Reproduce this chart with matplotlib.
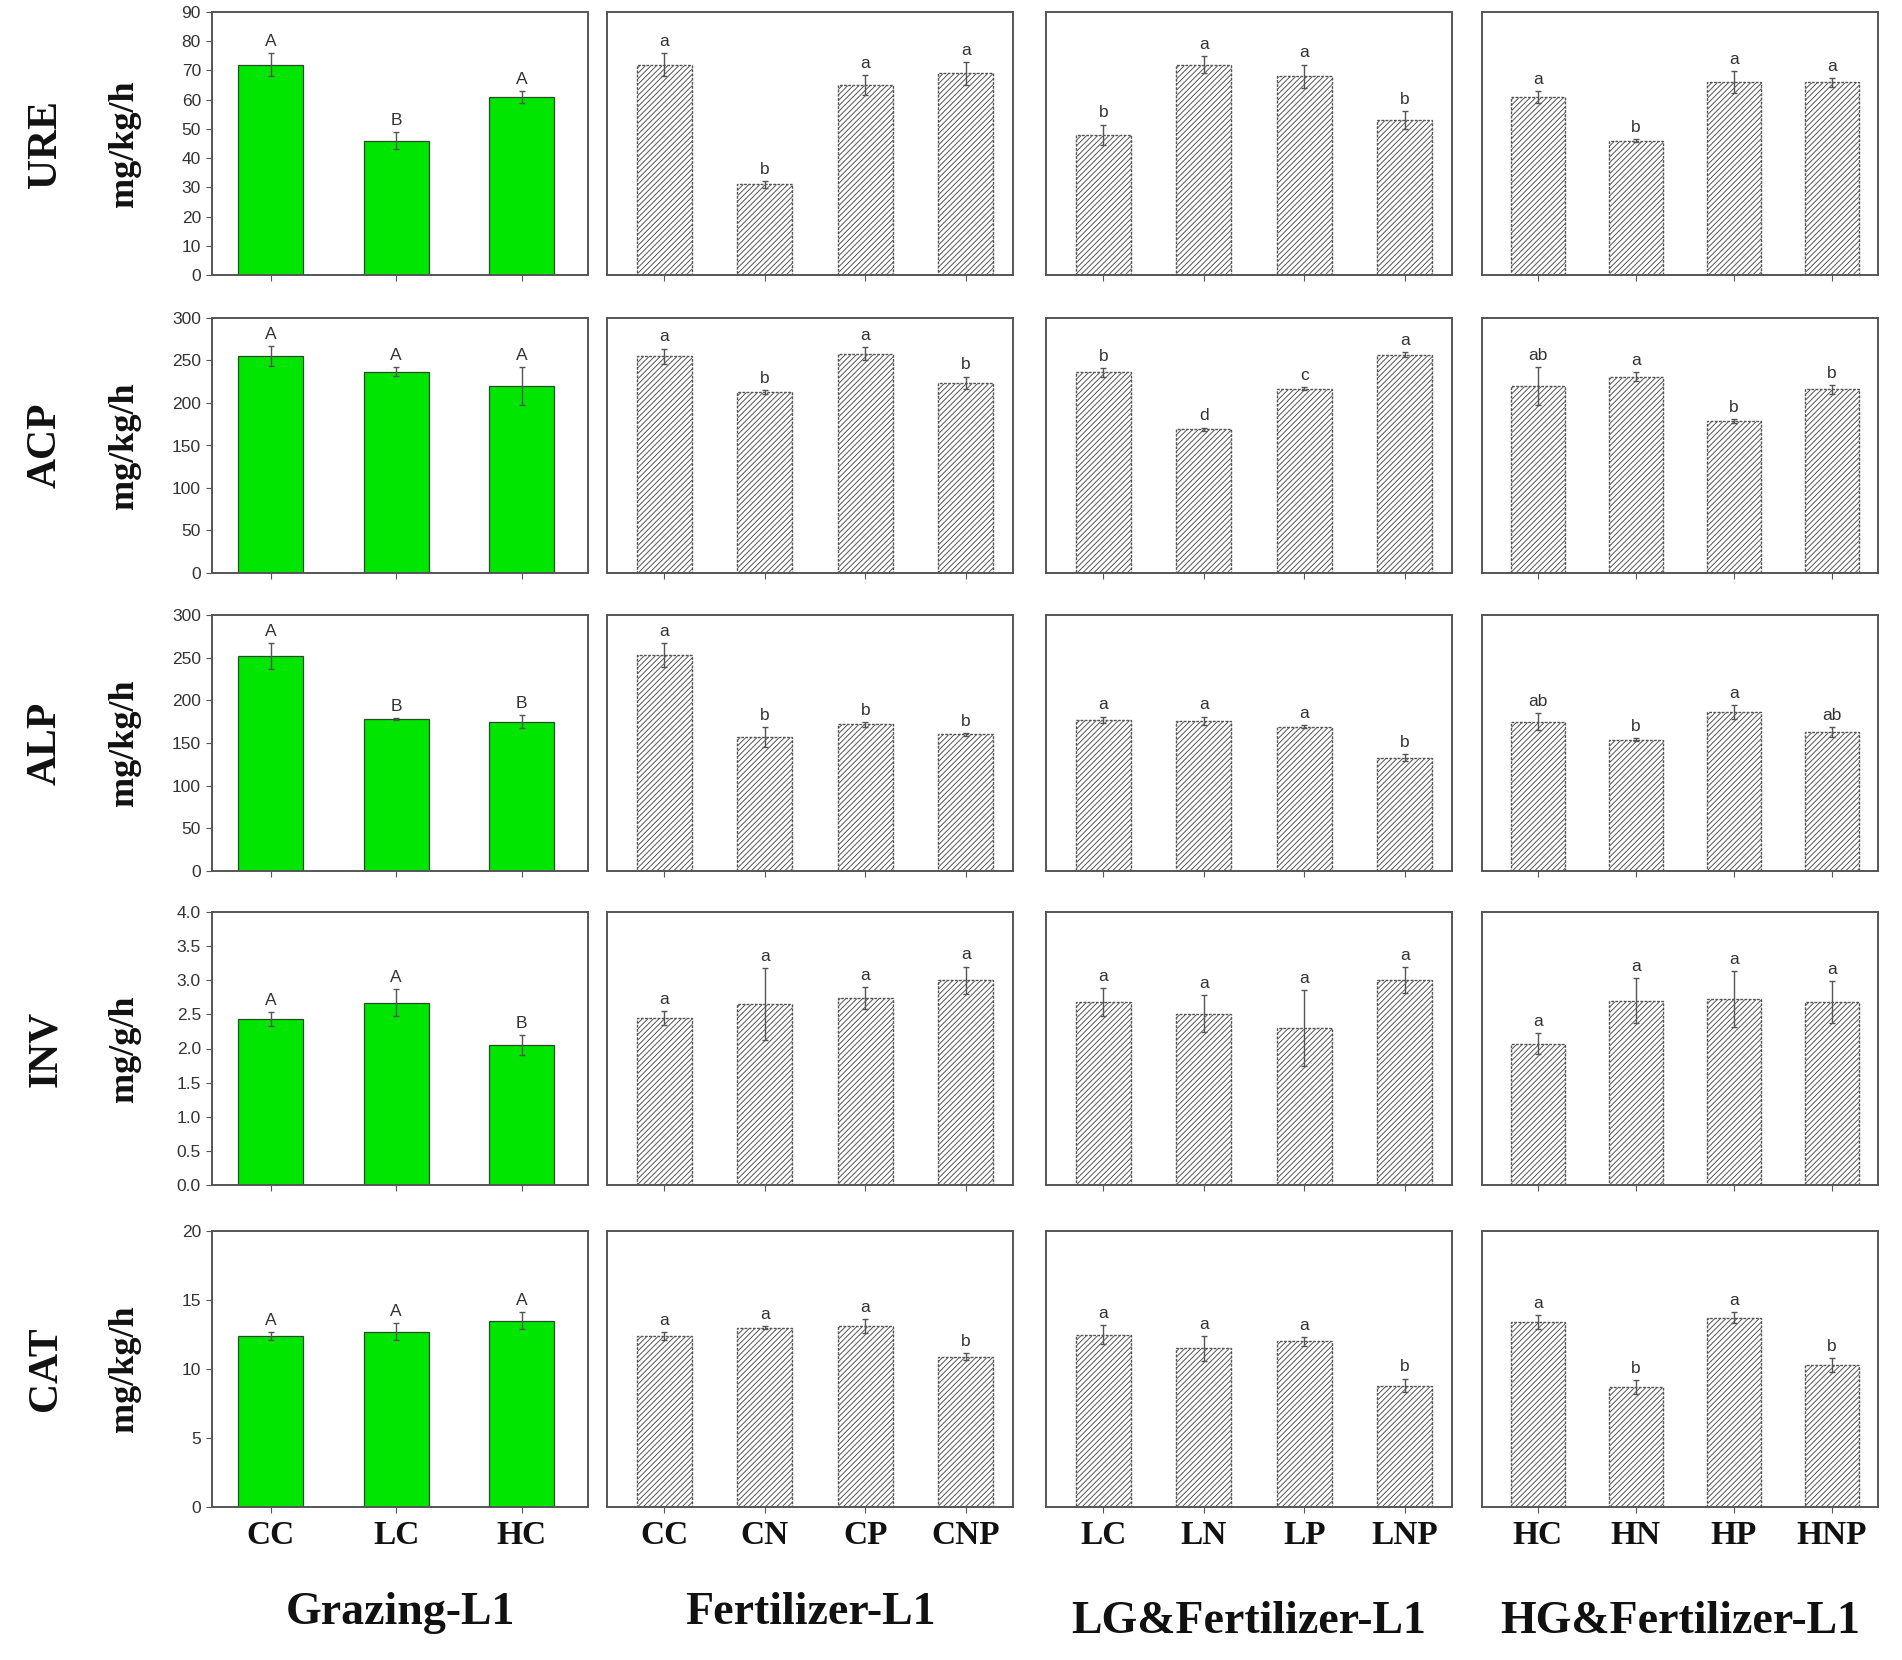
import matplotlib
matplotlib.use("Agg")
import matplotlib.pyplot as plt
import numpy as np

# ---------------- data ----------------
groups = ["Grazing-L1", "Fertilizer-L1", "LG&Fertilizer-L1", "HG&Fertilizer-L1"]
cats_grazing = ["CC", "LC", "HC"]
cats_fert = ["CC", "CN", "CP", "CNP"]
cats_lg = ["LC", "LN", "LP", "LNP"]
cats_hg = ["HC", "HN", "HP", "HNP"]

enzymes = ["URE", "ACP", "ALP", "INV", "CAT"]
units = ["mg/kg/h", "mg/kg/h", "mg/kg/h", "mg/g/h", "mg/kg/h"]
y_max = [90, 300, 300, 4.0, 20]
y_step = [10, 50, 50, 0.5, 5]

ure_vals = [[72, 46, 61], [72, 31, 65, 69], [48, 72, 68, 53], [61, 46, 66, 66]]
ure_errs = [[4, 3, 2], [4, 1.2, 3.4, 4], [3.5, 3, 4, 3], [2, 0.5, 3.8, 1.5]]
ure_sig = [["A", "B", "A"], ["a", "b", "a", "a"], ["b", "a", "a", "b"], ["a", "b", "a", "a"]]

acp_vals = [[255, 237, 220], [255, 213, 258, 224], [236, 169, 217, 257], [220, 231, 179, 216]]
acp_errs = [[12, 5, 22], [9, 2, 8, 7], [5, 2, 2, 3], [22, 5, 2, 5]]
acp_sig = [["A", "A", "A"], ["a", "b", "a", "b"], ["b", "d", "c", "a"], ["ab", "a", "b", "b"]]

alp_vals = [[252, 178, 175], [253, 157, 172, 160], [177, 176, 169, 133], [175, 154, 186, 163]]
alp_errs = [[15, 1, 8], [14, 12, 3, 2], [4, 5, 2, 4], [10, 2, 8, 6]]
alp_sig = [["A", "B", "B"], ["a", "b", "b", "b"], ["a", "a", "a", "b"], ["ab", "b", "a", "ab"]]

inv_vals = [[2.43, 2.67, 2.05], [2.45, 2.65, 2.74, 3.0], [2.68, 2.51, 2.3, 3.0], [2.07, 2.70, 2.72, 2.68]]
inv_errs = [[0.1, 0.2, 0.15], [0.1, 0.53, 0.16, 0.2], [0.2, 0.27, 0.56, 0.19], [0.15, 0.33, 0.41, 0.31]]
inv_sig = [["A", "A", "B"], ["a", "a", "a", "a"], ["a", "a", "a", "a"], ["a", "a", "a", "a"]]

cat_vals = [[12.4, 12.7, 13.5], [12.4, 13.0, 13.1, 10.9], [12.5, 11.5, 12.0, 8.8], [13.4, 8.7, 13.7, 10.3]]
cat_errs = [[0.3, 0.6, 0.6], [0.3, 0.1, 0.5, 0.25], [0.7, 0.9, 0.3, 0.5], [0.5, 0.5, 0.4, 0.5]]
cat_sig = [["A", "A", "A"], ["a", "a", "a", "b"], ["a", "a", "a", "b"], ["a", "b", "a", "b"]]

all_cats = [cats_grazing, cats_fert, cats_lg, cats_hg]
all_vals = [ure_vals, acp_vals, alp_vals, inv_vals, cat_vals]
all_errs = [ure_errs, acp_errs, alp_errs, inv_errs, cat_errs]
all_sig = [ure_sig, acp_sig, alp_sig, inv_sig, cat_sig]

# ---------------- layout ----------------
W, H = 1902, 1660
plt.rcParams["hatch.linewidth"] = 0.7
fig = plt.figure(figsize=(W / 100, H / 100), dpi=100)

col_x = [(212, 588), (607, 1013), (1046, 1452), (1482, 1878)]
row_y = [(12, 275), (318, 573), (615, 871), (912, 1185), (1231, 1507)]

serif = "Liberation Serif"
sans = "Liberation Sans"
frame_col = "#555555"
green = "#00e600"

for r in range(5):
    for c in range(4):
        x0, x1 = col_x[c]
        yt, yb = row_y[r]
        ax = fig.add_axes([x0 / W, 1 - yb / H, (x1 - x0) / W, (yb - yt) / H])
        cats = all_cats[c]
        vals = all_vals[r][c]
        errs = all_errs[r][c]
        sig = all_sig[r][c]
        x = np.arange(len(cats))
        if c == 0:
            ax.bar(x, vals, width=0.52, color=green, edgecolor="#2a4a2a", linewidth=0.9, zorder=2)
            ax.set_xlim(-0.47, 2.53)
        else:
            ax.bar(x, vals, width=0.55, color="white", edgecolor="#555555", hatch="//////",
                   linewidth=1.0, linestyle=(0, (2, 1)), zorder=2)
            ax.set_xlim(-0.57, 3.47)
        ax.errorbar(x, vals, yerr=errs, fmt="none", ecolor="#555555", elinewidth=1.0,
                    capsize=2.5, capthick=1.0, zorder=3)
        for xi, v, e, s in zip(x, vals, errs, sig):
            ax.annotate(s, (xi, v + e), xytext=(0, 3), textcoords="offset points",
                        ha="center", va="bottom", fontsize=12.5, family=sans, color="#333333")
        ax.set_ylim(0, y_max[r])
        for sp in ax.spines.values():
            sp.set_color(frame_col)
            sp.set_linewidth(1.4)
        ax.set_xticks(x)
        if r == 4:
            ax.set_xticklabels(cats, fontsize=24, fontweight="bold", family=serif, color="#111111")
        else:
            ax.set_xticklabels([])
        ax.tick_params(axis="x", direction="out", length=4, color=frame_col, pad=5)
        if c == 0:
            ticks = np.arange(0, y_max[r] + 1e-9, y_step[r])
            ax.set_yticks(ticks)
            if r == 3:
                ax.set_yticklabels([f"{t:.1f}" for t in ticks])
            else:
                ax.set_yticklabels([f"{t:g}" for t in ticks])
            ax.tick_params(axis="y", direction="out", length=4, color=frame_col,
                           labelsize=12.5, labelcolor="#333333", pad=4)
            for lab in ax.get_yticklabels():
                lab.set_family(sans)
            # row label and unit
            yc = 1 - (yt + yb) / 2 / H
            fig.text(46 / W, yc, enzymes[r], rotation=90, ha="center", va="center",
                     fontsize=30, fontweight="bold", family=serif, color="#111111")
            fig.text(124 / W, yc, units[r], rotation=90, ha="center", va="center",
                     fontsize=26, fontweight="bold", family=serif, color="#111111")
        else:
            ax.set_yticks([])

title_y = [1613, 1613, 1622, 1622]
for c in range(4):
    x0, x1 = col_x[c]
    fig.text((x0 + x1) / 2 / W, 1 - title_y[c] / H, groups[c], ha="center", va="center",
             fontsize=33, fontweight="bold", family=serif, color="#111111")

fig.savefig("out.png", dpi=100, facecolor="white")
